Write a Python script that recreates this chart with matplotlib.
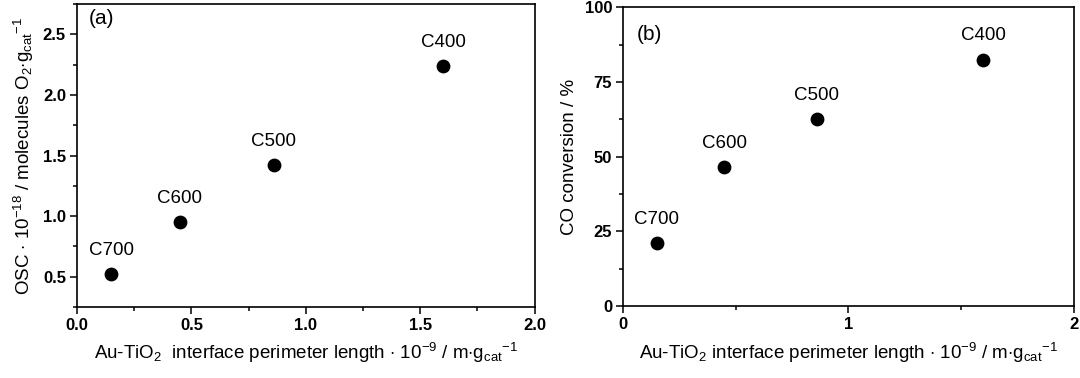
import numpy as np
import matplotlib as mpl
mpl.use('Agg')
import matplotlib.pyplot as plt
from matplotlib.ticker import MultipleLocator

plt.rcParams['font.family'] = 'Liberation Sans'
plt.rcParams['mathtext.fontset'] = 'custom'
plt.rcParams['mathtext.rm'] = 'Liberation Sans'
plt.rcParams['mathtext.it'] = 'Liberation Sans'

names = ['C700', 'C600', 'C500', 'C400']
perimeter = [0.15, 0.45, 0.86, 1.60]
osc = [0.52, 0.95, 1.42, 2.24]
co_conv = [21.0, 46.5, 62.5, 82.5]

fig = plt.figure(figsize=(10.8, 3.78), dpi=100)
ax1 = fig.add_axes([0.0713, 0.188, 0.4237, 0.801])
ax2 = fig.add_axes([0.577, 0.190, 0.417, 0.791])

def style(ax):
    for s in ax.spines.values():
        s.set_linewidth(1.2)
    ax.tick_params(which='major', direction='out', length=5, width=1.1, labelsize=12, pad=3)
    ax.tick_params(which='minor', direction='out', length=3, width=1.1)
    for lab in ax.get_xticklabels() + ax.get_yticklabels():
        lab.set_fontweight('bold')

# panel (a)
ax1.scatter(perimeter, osc, s=80, c='k', zorder=3)
for x, y, n in zip(perimeter, osc, names):
    ax1.annotate(n, (x, y), xytext=(0, 11), textcoords='offset points',
                 ha='center', va='bottom', fontsize=13.5)
ax1.set_xlim(0, 2.0)
ax1.set_ylim(0.25, 2.75)
ax1.set_xticks([0.0, 0.5, 1.0, 1.5, 2.0])
ax1.xaxis.set_minor_locator(MultipleLocator(0.25))
ax1.set_yticks([0.5, 1.0, 1.5, 2.0, 2.5])
ax1.yaxis.set_minor_locator(MultipleLocator(0.25))
style(ax1)
ax1.set_xlabel(r'Au-TiO$_2$  interface perimeter length $\cdot$ 10$^{-9}$ / m$\cdot$g$_{\rm cat}$$^{-1}$', fontsize=13.5, labelpad=6)
ax1.set_ylabel(r'OSC $\cdot$ 10$^{-18}$ / molecules O$_2$$\cdot$g$_{\rm cat}$$^{-1}$', fontsize=13.5, labelpad=5)
ax1.text(0.025, 0.985, '(a)', transform=ax1.transAxes, fontsize=15, ha='left', va='top')

# panel (b)
ax2.scatter(perimeter, co_conv, s=80, c='k', zorder=3)
for x, y, n in zip(perimeter, co_conv, names):
    ax2.annotate(n, (x, y), xytext=(0, 11), textcoords='offset points',
                 ha='center', va='bottom', fontsize=13.5)
ax2.set_xlim(0, 2)
ax2.set_ylim(0, 100)
ax2.set_xticks([0, 1, 2])
ax2.xaxis.set_minor_locator(MultipleLocator(0.5))
ax2.set_yticks([0, 25, 50, 75, 100])
ax2.yaxis.set_minor_locator(MultipleLocator(12.5))
style(ax2)
ax2.set_xlabel(r'Au-TiO$_2$ interface perimeter length $\cdot$ 10$^{-9}$ / m$\cdot$g$_{\rm cat}$$^{-1}$', fontsize=13.5, labelpad=6)
ax2.set_ylabel('CO conversion / %', fontsize=13.5, labelpad=5)
ax2.text(0.03, 0.94, '(b)', transform=ax2.transAxes, fontsize=15, ha='left', va='top')

fig.savefig('out.png', dpi=100)
plt.close(fig)
